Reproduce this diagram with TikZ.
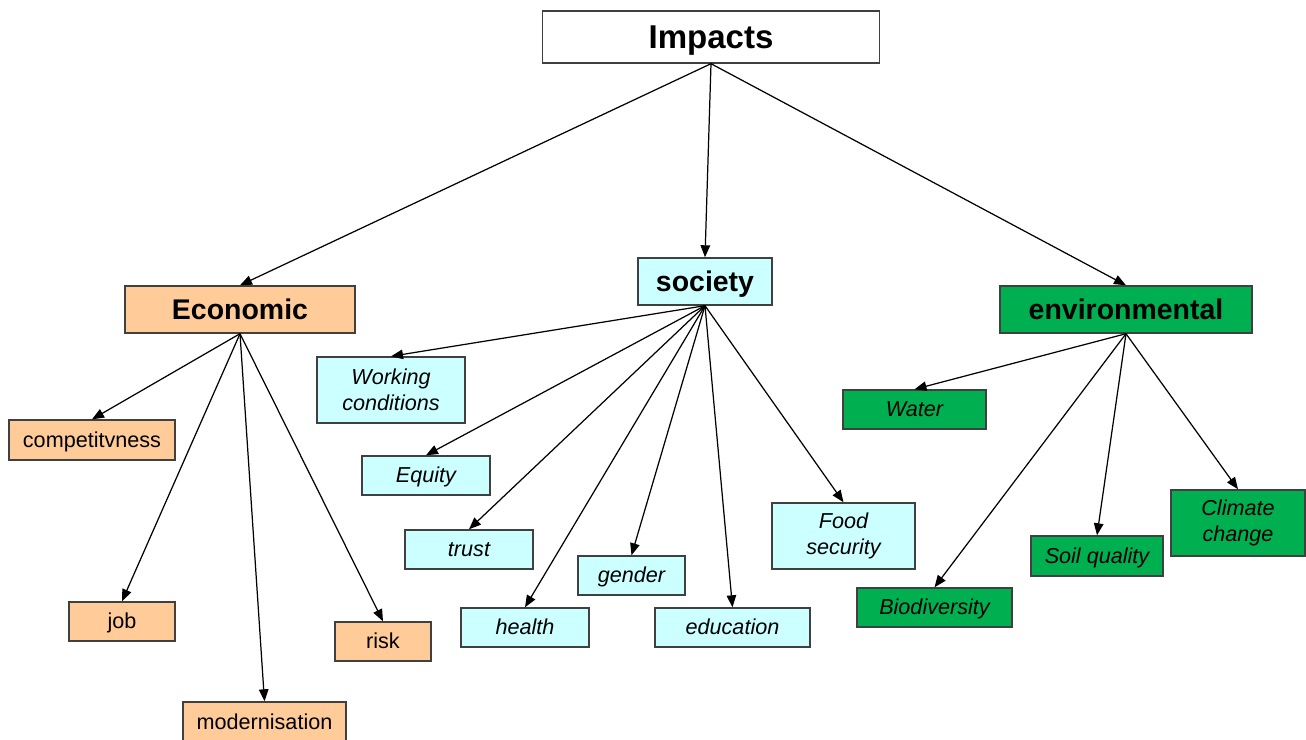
\documentclass[tikz,border=0pt]{standalone}
\usepackage{fontspec}
\setmainfont{Liberation Sans}
\usetikzlibrary{arrows.meta}
\definecolor{MapInk}{HTML}{000000}
\definecolor{MapEdge}{HTML}{404040}
\definecolor{EconFill}{HTML}{FFCC99}
\definecolor{SocFill}{HTML}{CCFFFF}
\definecolor{EnvFill}{HTML}{00B050}
\tikzset{
  every node/.style={text=MapInk},
  box/.style 2 args={draw=MapEdge, line width=0.8pt, inner sep=0pt,
    minimum width=#1*0.02cm, minimum height=#2*0.02cm, align=center},
  oneline/.style={text height=11.1pt, text depth=2.6pt},
  top/.style={font=\fontsize{18.8}{22}\selectfont\bfseries, fill=white,
    text height=17pt, text depth=4pt},
  branch/.style={font=\fontsize{16.2}{19}\selectfont\bfseries,
    text height=14.6pt, text depth=3.4pt},
  leaf/.style={font=\fontsize{12.3}{14.5}\selectfont, oneline},
  item/.style={font=\fontsize{12.3}{14.5}\selectfont\itshape},
  econ/.style={fill=EconFill},
  soc/.style={fill=SocFill},
  env/.style={fill=EnvFill},
  link/.style={-{Triangle[length=2.4mm,width=1.9mm]}, draw=MapInk, line width=0.7pt},
}
\begin{document}
\begin{tikzpicture}[x=0.02cm,y=-0.02cm]
  \useasboundingbox (0,0) rectangle (1306,740);
  % Root
  \node[box={337}{52}, top] (impacts) at (711,37) {Impacts};
  % Three branches
  \node[box={230}{47}, branch, econ] (economic) at (240,309.5) {Economic};
  \node[box={134}{47}, branch, soc] (society) at (705,281.5) {society};
  \node[box={252}{47}, branch, env] (environ) at (1126,309.5) {environmental};
  % Economic leaves
  \node[box={166}{40}, leaf, econ] (compet) at (92,440) {competitvness};
  \node[box={106}{39}, leaf, econ] (job) at (122,621.5) {job};
  \node[box={163}{40}, leaf, econ] (modern) at (264.5,722) {modernisation};
  \node[box={96}{39}, leaf, econ] (risk) at (383,641.5) {risk};
  % Society items
  \node[box={148}{66}, item, soc] (working) at (391,390) {Working\\conditions};
  \node[box={128}{39}, item, oneline, soc] (equity) at (426,475.5) {Equity};
  \node[box={128}{39}, item, oneline, soc] (trust) at (469,549.5) {trust};
  \node[box={128}{39}, item, oneline, soc] (health) at (525,627.5) {health};
  \node[box={107}{39}, item, oneline, soc] (gender) at (631.5,575.5) {gender};
  \node[box={155}{39}, item, oneline, soc] (education) at (732.5,627.5) {education};
  \node[box={143}{66}, item, soc] (food) at (843.5,536) {Food\\security};
  % Environmental items
  \node[box={143}{39}, item, oneline, env] (water) at (914.5,409.5) {Water};
  \node[box={155}{39}, item, oneline, env] (biodiv) at (934.5,607.5) {Biodiversity};
  \node[box={132}{40}, item, oneline, env] (soil) at (1097,556) {Soil quality};
  \node[box={134}{66}, item, env] (climate) at (1238,523) {Climate\\change};
  % Connectors
  \foreach \b in {economic,society,environ}
    \draw[link] (impacts.south) -- (\b.north);
  \foreach \c in {compet,job,modern,risk}
    \draw[link] (economic.south) -- (\c.north);
  \foreach \c in {working,equity,trust,health,gender,education,food}
    \draw[link] (society.south) -- (\c.north);
  \foreach \c in {water,biodiv,soil,climate}
    \draw[link] (environ.south) -- (\c.north);
\end{tikzpicture}
\end{document}
